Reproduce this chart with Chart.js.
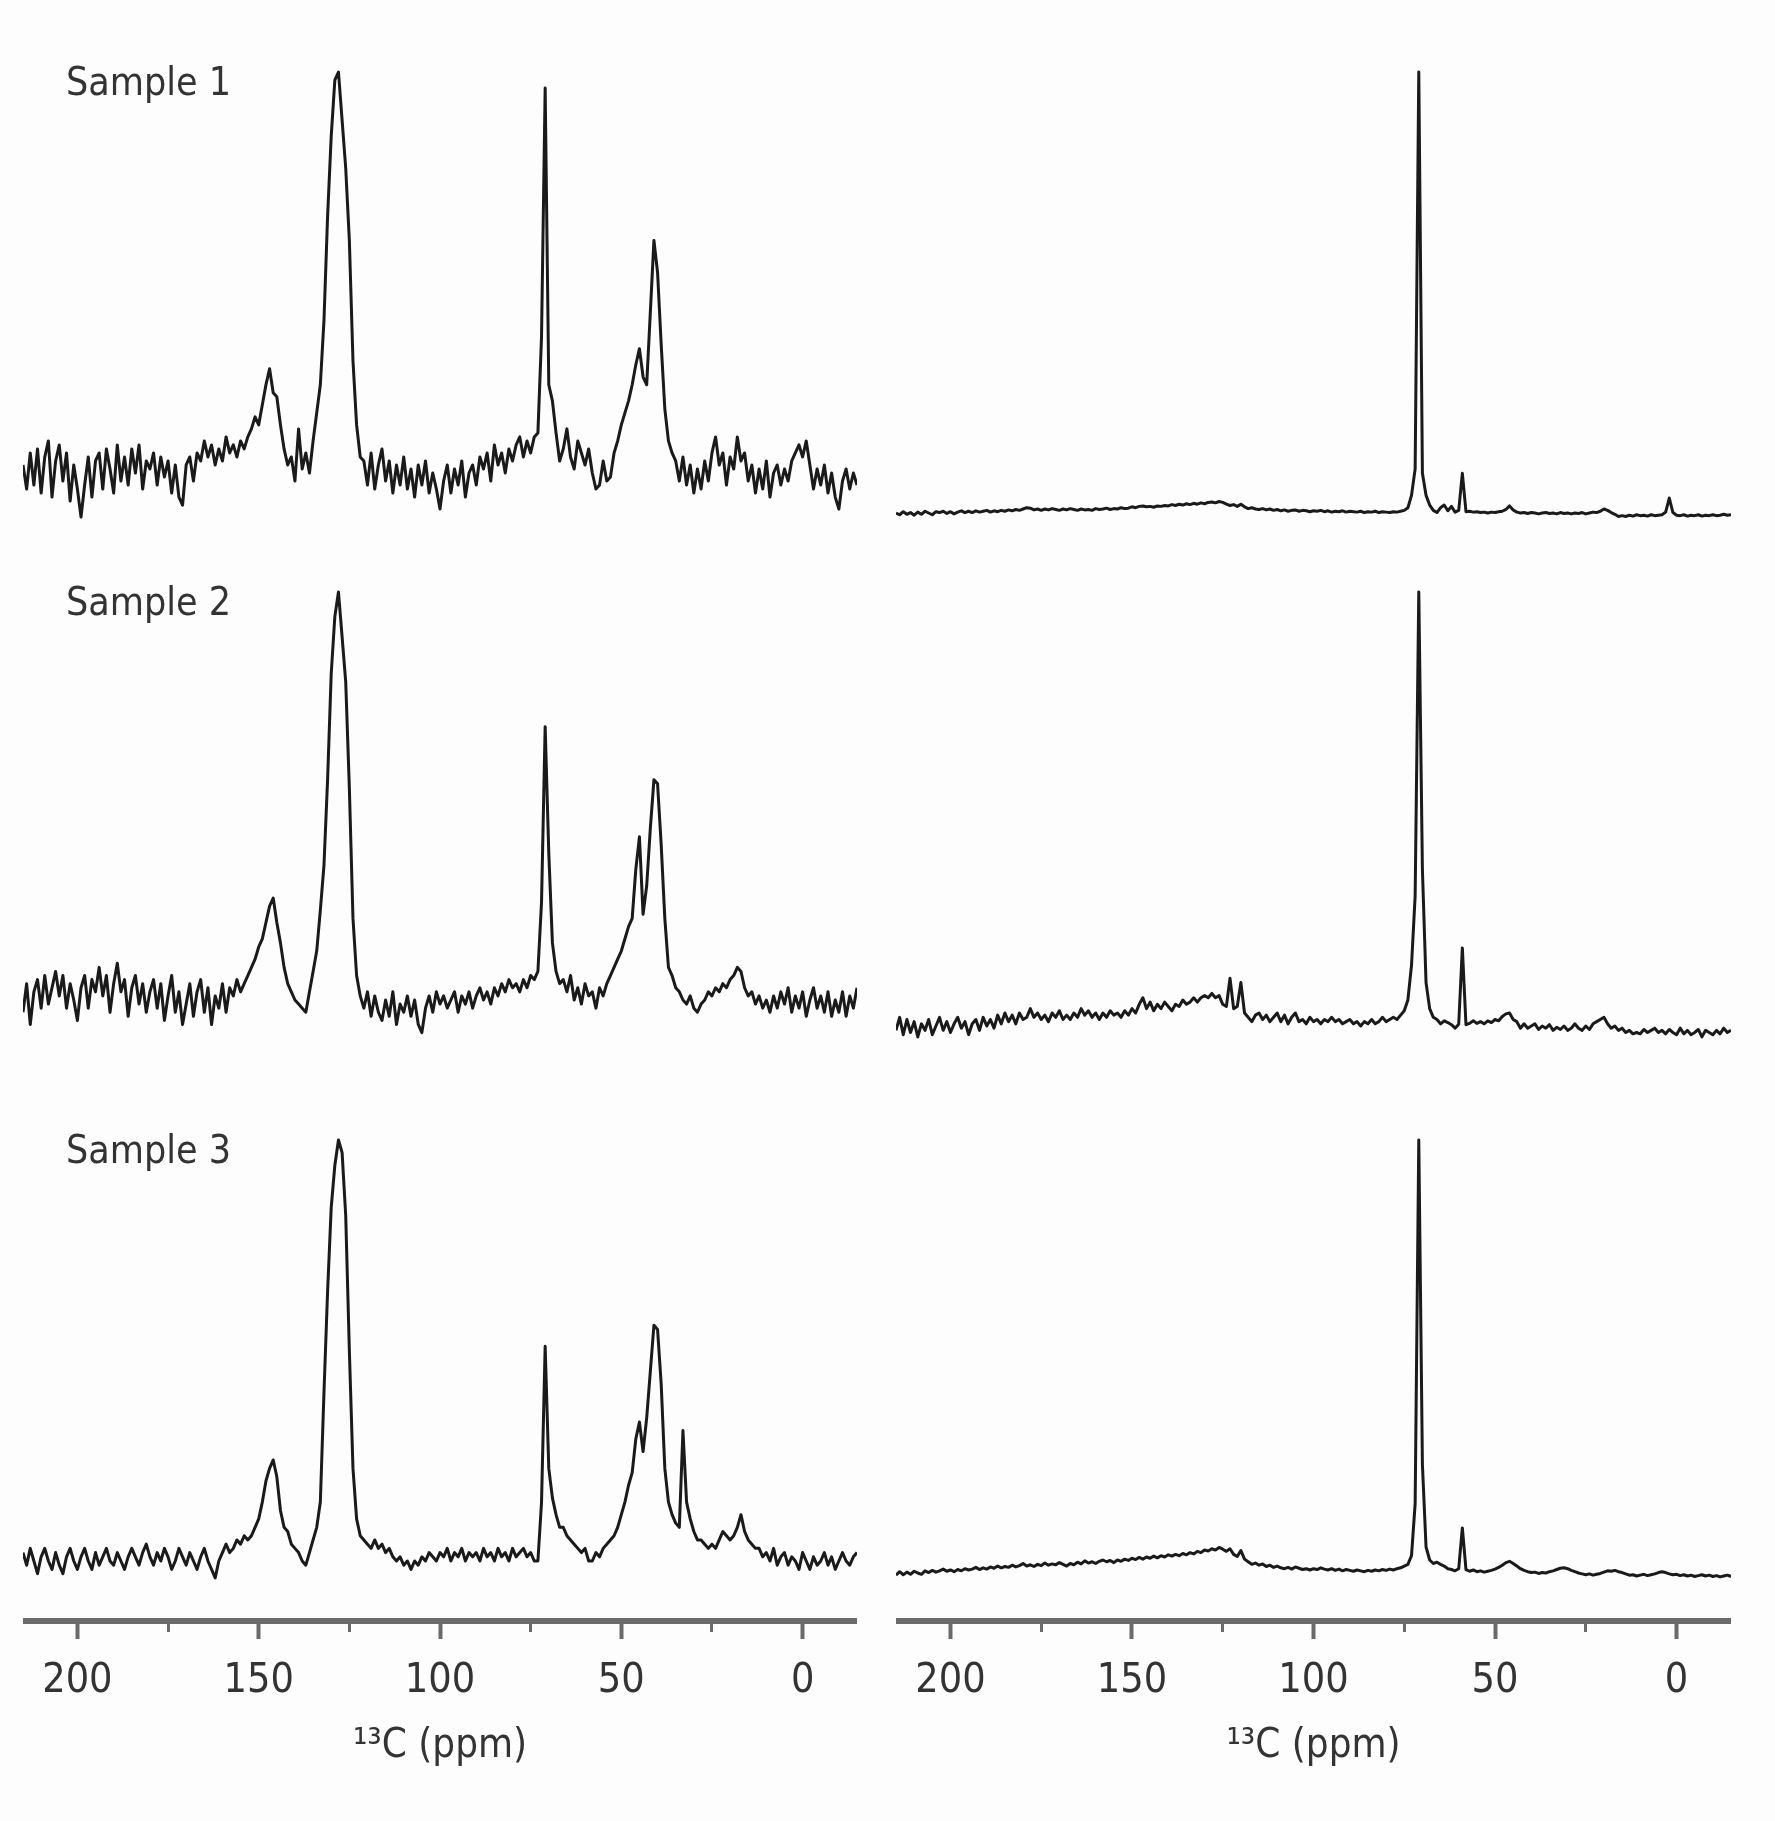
<!DOCTYPE html>
<html>
<head>
<meta charset="utf-8">
<title>13C NMR spectra</title>
<script src="https://cdn.jsdelivr.net/npm/chart.js@4.4.1/dist/chart.umd.min.js"></script>
<style>
  html, body { margin: 0; padding: 0; background: #fdfdfd; }
  #page { position: relative; width: 1775px; height: 1821px; overflow: hidden; }
  .panel { position: absolute; }
</style>
</head>
<body>
<div id="page"></div>
<script>
// chemical shift grid: one intensity per ppm, from 215 ppm down to -15 ppm
var ppmStart = 215;
var ppmEnd = -15;

var tickValues = [0, 50, 100, 150, 200];
var minorTickValues = [25, 75, 125, 175];
var axisTitle = '¹³C (ppm)';

// intensities, tallest peak of each panel = 100
var leftSample1 = [
  2, -4, 5, -3, 6, -5, 4, 8, -6, 3,          // 215
  7, -2, 5, -7, 2, -4, -11, -3, 4, -6,       // 205
  3, 5, -4, 6, 1, -5, 7, -2, 4, -3,          // 195
  6, 0, 7, -4, 3, 1, 5, -3, 4, -1,           // 185
  3, -5, 2, -6, -8, 2, 4, -2, 5, 3,          // 175
  8, 4, 7, 2, 6, 3, 9, 5, 7, 4,              // 165
  8, 6, 9, 11, 14, 12, 17, 22, 26, 20,       // 155
  19, 12, 6, 2, 4, -2, 11, 1, 5, 0,          // 145
  8, 15, 22, 38, 64, 84, 98, 100, 88, 76,    // 135
  58, 28, 12, 4, 3, -3, 5, -4, 2, 6,         // 125
  -2, 3, -5, 2, -3, 4, -4, 1, -6, 2,         // 115
  -3, 3, -5, 0, -4, -9, -2, 2, -5, 1,        // 105
  -3, 3, -6, 0, 2, -3, 4, 1, 5, -2,          // 95
  7, 2, 5, 0, 6, 3, 7, 9, 4, 8,              // 85
  5, 9, 10, 34, 96, 22, 18, 10, 3, 6,        // 75
  11, 4, 1, 8, 5, 2, 6, 0, -4, -3,           // 65
  3, -2, -1, 5, 8, 12, 15, 18, 22, 27,       // 55
  31, 24, 22, 40, 58, 50, 32, 16, 8, 5,      // 45
  3, -2, 4, -3, 2, -5, 1, -4, 3, -2,         // 35
  5, 9, 2, 5, -3, 4, 1, 9, 3, 5,             // 25
  -2, 2, -5, 1, -4, 3, -6, 0, 2, -3,         // 15
  1, -2, 3, 5, 7, 4, 8, 2, -4, 1,            // 5
  -3, 2, -5, 0, -6, -9, -2, 1, -4, 0,        // -5
  -3                                          // -15
];

var leftSample2 = [
  -3, 4, -6, 2, 5, -2, 6, -1, 3, 7,          // 215
  1, 6, -2, 4, 0, -5, 3, 6, -2, 5,           // 205
  2, 8, 1, 6, -3, 4, 9, 2, 5, -4,            // 195
  3, 6, -1, 4, -3, 2, 5, -2, 4, -5,          // 185
  1, 6, -3, 2, -6, -1, 4, -4, 2, 5,          // 175
  -3, 3, -6, 1, -2, 4, -3, 3, 1, 5,          // 165
  2, 4, 6, 8, 10, 13, 15, 19, 23, 25,        // 155
  19, 14, 8, 4, 2, 0, -1, -2, -3, 2,         // 145
  7, 12, 22, 33, 54, 80, 94, 100, 89, 78,    // 135
  52, 20, 6, 1, -2, 2, -4, 1, -3, -5,        // 125
  0, -4, 2, -6, -1, -3, 1, -4, 0, -6,        // 115
  -8, -2, 1, -3, 2, -1, 1, -2, 0, 2,         // 105
  -3, 1, -1, 2, -2, 1, 3, 0, 2, -1,          // 95
  3, 1, 4, 2, 5, 3, 4, 2, 5, 3,              // 85
  6, 5, 7, 24, 67, 36, 14, 7, 4, 5,          // 75
  2, 6, 0, 3, -1, 4, 1, 2, -2, 3,            // 65
  1, 4, 6, 8, 10, 12, 15, 18, 20, 32,        // 55
  40, 21, 28, 42, 54, 53, 38, 20, 8, 6,      // 45
  3, 2, 0, -1, 1, -2, -3, -1, 0, 2,          // 35
  1, 3, 2, 4, 3, 5, 6, 8, 7, 3,              // 25
  1, 2, -1, 1, -2, 0, -3, 1, -2, 2,          // 15
  -1, 3, -3, 1, -2, 2, -4, 0, 3, -2,         // 5
  1, -3, 2, -4, 0, -3, 2, -4, 1, -2,         // -5
  3                                           // -15
];

var leftSample3 = [
  2, -1, 3, 0, -3, 1, 3, 0, -2, 2,           // 215
  -1, -3, 1, 3, 0, -2, 1, 3, 0, -2,          // 205
  2, -1, 1, 3, 0, -1, 2, 0, -2, 1,           // 195
  3, 1, -1, 2, 4, 1, -1, 2, 0, 3,            // 185
  1, -2, 0, 3, 1, -1, 2, 0, -2, 1,           // 175
  3, 0, -2, -4, 0, 2, 4, 2, 3, 5,            // 165
  4, 6, 5, 6, 8, 10, 14, 19, 22, 24,         // 155
  20, 12, 8, 7, 4, 3, 2, 0, -1, 2,           // 145
  5, 8, 14, 40, 64, 84, 94, 100, 97, 82,     // 135
  50, 22, 10, 6, 5, 4, 3, 5, 3, 4,           // 125
  2, 3, 1, 0, 1, -1, 0, -2, 0, -1,           // 115
  1, 0, 2, 1, 0, 2, 1, 3, 0, 2,              // 105
  1, 3, 0, 2, 1, 2, 0, 3, 1, 2,              // 95
  0, 3, 1, 2, 0, 3, 1, 2, 3, 1,              // 85
  2, 0, 0, 14, 51, 22, 15, 11, 8, 8,         // 75
  6, 5, 4, 3, 2, 3, 0, 0, 2, 1,              // 65
  3, 4, 5, 6, 8, 11, 14, 18, 21, 29,         // 55
  33, 26, 34, 45, 56, 55, 42, 22, 14, 11,    // 45
  9, 8, 31, 14, 10, 7, 5, 5, 4, 3,           // 35
  4, 3, 5, 7, 6, 5, 6, 8, 11, 7,             // 25
  5, 4, 3, 3, 1, 2, 0, 3, -1, 1,             // 15
  2, -1, 1, 0, -2, 2, 0, -2, 1, -1,          // 5
  0, 2, -1, 1, -2, 0, 2, 0, -1, 1,           // -5
  2                                           // -15
];

var rightSample1 = [
  0, -0.4, 0.3, -0.3, 0.1, -0.5, 0.2, -0.3, 0.4, 0,        // 215
  -0.4, 0.3, 0.1, 0.4, -0.1, 0.3, -0.2, 0.2, 0.5, 0.1,     // 205
  0.4, 0.1, 0.5, 0.2, 0.4, 0.6, 0.2, 0.5, 0.3, 0.6,        // 195
  0.4, 0.7, 0.5, 0.8, 0.6, 0.9, 1.2, 1.1, 0.7, 0.9,        // 185
  0.6, 0.9, 0.7, 1.0, 0.8, 0.6, 0.9, 0.7, 1.0, 0.8,        // 175
  0.6, 0.9, 0.7, 0.8, 0.6, 1.0, 0.8, 0.9, 1.1, 0.8,        // 165
  1.0, 0.9, 1.2, 1.0, 1.1, 1.4, 1.2, 1.5, 1.6, 1.4,        // 155
  1.5, 1.3, 1.6, 1.5, 1.7, 1.6, 1.9, 1.7, 2.0, 1.8,        // 145
  2.1, 1.9, 2.2, 2.0, 2.3, 2.1, 2.4, 2.5, 2.3, 2.6,        // 135
  2.4, 2.0, 1.7, 1.9, 1.5, 2.0, 1.4, 1.0, 1.2, 0.9,        // 125
  0.8, 1.0, 0.7, 0.9, 0.6, 0.8, 0.5, 0.7, 0.4, 0.6,        // 115
  0.7, 0.4, 0.6, 0.5, 0.3, 0.5, 0.4, 0.6, 0.3, 0.5,        // 105
  0.2, 0.4, 0.3, 0.5, 0.2, 0.4, 0.3, 0.2, 0.4, 0.1,        // 95
  0.3, 0.2, 0.4, 0.1, 0.3, 0.2, 0.1, 0.3, 0.2, 0.4,        // 85
  0.6, 1.2, 4, 10, 100, 9, 4, 1.8, 0.6, 0.1,               // 75
  1.2, 1.8, 0.5, 1.5, 0.2, 0.6, 9, 0.3, 0.4, 0.2,          // 65
  0.3, 0.1, 0.2, 0, 0.2, 0.1, 0.3, 0.4, 0.8, 1.6,          // 55
  0.7, 0.2, 0, 0.1, -0.1, 0.1, 0, -0.2, 0, 0.1,            // 45
  -0.1, 0, -0.2, 0.1, -0.1, 0, -0.2, 0, -0.1, 0.1,         // 35
  -0.2, 0, 0.2, 0.1, 0.4, 0.9, 0.6, 0.1, -0.3, -0.8,       // 25
  -0.6, -0.8, -0.5, -0.7, -0.4, -0.6, -0.5, -0.7, -0.4, -0.6, // 15
  -0.5, -0.4, 0.2, 3.4, 0.1, -0.5, -0.6, -0.4, -0.7, -0.5, // 5
  -0.6, -0.4, -0.7, -0.5, -0.6, -0.4, -0.6, -0.5, -0.3, -0.5, // -5
  -0.4                                                      // -15
];

var rightSample2 = [
  -1, 2, -2, 1.5, -1.5, 1, -2.5, 0.5, -1, 1.5,             // 215
  -2, 0, 2, -1, 1, -1.5, 0.5, 2, -0.5, 1,                  // 205
  -2, 0.5, 1.5, -1, 2, 0, 1.5, -0.5, 2.5, 0.5,             // 195
  3, 1, 2.5, 0.5, 3, 1.5, 2, 4, 2, 3,                      // 185
  1.5, 2.5, 1, 3, 2, 3.5, 1.5, 2.5, 1.5, 3,                // 175
  2, 4, 2.5, 3.5, 2, 3, 1.5, 3, 2, 3.5,                    // 165
  2.5, 3, 2, 3.5, 2.5, 4, 3, 5, 6.5, 4,                    // 155
  5.5, 3.5, 5, 4, 5.5, 4.5, 3.5, 5, 4.5, 6,                // 145
  5, 5.5, 6.5, 5.5, 6.5, 7, 6.5, 7.5, 6.5, 7,              // 135
  5, 4.5, 11, 4, 4.5, 10, 3, 2, 1, 2.5,                    // 125
  3, 1.5, 2.5, 1, 2, 3, 1, 2.5, 0.5, 2,                    // 115
  3, 1, 1.5, 0.5, 2, 1, 1.5, 0.5, 1.5, 1,                  // 105
  2, 1, 1.5, 0.5, 1, 1.5, 0.5, 1, 0, 1,                    // 95
  0.5, 1.5, 0.5, 1, 2, 1, 1.5, 2, 1.5, 2.5,                // 85
  3.5, 6, 14, 30, 100, 36, 10, 4, 2, 1.5,                  // 75
  0.5, 1.2, 0.8, 0.3, -0.5, 0.4, 18, 0.3, 0.6, 1.2,        // 65
  0.6, 1, 0.5, 1.2, 0.8, 1.5, 1.2, 2.2, 2.8, 3,            // 55
  1.5, 1, -0.5, 0.5, -0.5, 0, 0.5, -0.8, 0, -0.5,          // 45
  0.3, -1, -0.3, -0.8, 0, -1, -0.5, 0.5, -0.5, -1,         // 35
  0, -0.8, 0.5, 1, 1.5, 2, 0.5, -0.5, 0, -1,               // 25
  -0.5, -1.5, -1, -1.8, -1.5, -1.8, -0.8, -1.5, -1, -0.5,  // 15
  -1.5, -1, -1.8, -0.8, -1.5, -2, -0.5, -1.8, -1, -2,      // 5
  -1.5, -0.8, -2.5, -1, -1.5, -2, -1, -1.8, -0.5, -1.5,    // -5
  -1                                                        // -15
];

var rightSample3 = [
  -0.5, 0.3, -0.4, 0.2, -0.3, 0.4, 0, -0.3, 0.5, 0.1,      // 215
  0.6, 0.2, 0.5, 0.9, 0.4, 0.7, 0.3, 0.8, 0.5, 1.0,        // 205
  0.7, 0.9, 1.3, 0.8, 1.2, 0.9, 1.4, 1.1, 1.6, 1.2,        // 195
  1.5, 1.3, 1.8, 1.4, 1.7, 2.2, 1.6, 1.9, 1.5, 2.0,        // 185
  1.7, 2.3, 1.8, 2.1, 1.9, 2.4, 2.0, 1.6, 2.2, 1.9,        // 175
  2.5, 2.1, 2.8, 2.3, 2.6, 2.2, 2.7, 3.0, 2.6, 2.9,        // 165
  2.4, 3.0, 2.7, 3.2, 2.9, 3.4, 3.1, 3.6, 3.2, 3.7,        // 155
  3.4, 3.9, 3.5, 4.0, 3.7, 4.2, 3.9, 4.3, 4.0, 4.5,        // 145
  4.2, 4.7, 4.4, 5.0, 4.7, 5.3, 5.1, 5.6, 5.3, 5.9,        // 135
  5.5, 5.0, 5.6, 4.3, 3.8, 5.2, 3.2, 2.6, 2.0, 2.3,        // 125
  1.8, 2.1, 1.5, 1.8, 1.3, 1.6, 1.2, 1.0, 1.3, 0.9,        // 115
  1.4, 1.1, 0.8, 1.0, 0.7, 1.0, 0.8, 1.2, 0.9, 0.7,        // 105
  1.0, 0.6, 0.9, 0.5, 0.8, 0.6, 0.4, 0.7, 0.5, 0.3,        // 95
  0.6, 0.4, 0.7, 0.5, 0.8, 0.6, 0.9, 0.7, 1.0, 1.2,        // 85
  1.6, 2.0, 4, 16, 100, 25, 6, 3, 2.2, 2.5,                // 75
  2.0, 1.6, 1.0, 0.8, 0.5, 1.0, 10.4, 0.8, 0.4, 0.7,       // 65
  0.3, 0.5, 0.2, 0.4, 0.6, 0.9, 1.3, 1.8, 2.4, 2.7,        // 55
  2.2, 1.6, 1.0, 0.6, 0.3, 0.1, 0.2, -0.1, 0.1, 0.0,       // 45
  0.3, 0.5, 0.8, 1.1, 1.2, 1.0, 0.6, 0.3, 0, -0.2,         // 35
  -0.4, -0.2, -0.5, -0.3, -0.1, 0.2, 0.5, 0.4, 0.6, 0.3,   // 25
  0.1, -0.2, -0.5, -0.4, -0.7, -0.5, -0.3, -0.6, -0.4, -0.2, // 15
  0.1, 0.3, 0.1, -0.2, -0.4, -0.3, -0.6, -0.4, -0.7, -0.5, // 5
  -0.8, -0.6, -0.4, -0.7, -0.5, -0.8, -0.6, -0.9, -0.7, -0.5, // -5
  -0.8                                                      // -15
];

// ---- layout ----
var fontFamily = '"DejaVu Sans Condensed", "DejaVu Sans", sans-serif';
var textColor = '#333';
var axisColor = '#6a6a6a';
var pageBottom = 1821;
var columns = [{ left: 23, width: 834 }, { left: 896, width: 835 }];
var rows = [
  { top: 40, bottom: 530 },
  { top: 560, bottom: 1060 },
  { top: 1100, bottom: 1621 }
];

// page y of the baseline (0) and of the tallest peak (100) in each panel
var panels = [
  { row: 0, col: 0, values: leftSample1, base: 473, peak: 72, label: 'Sample 1', labelY: 95 },
  { row: 0, col: 1, values: rightSample1, base: 513, peak: 72 },
  { row: 1, col: 0, values: leftSample2, base: 1000, peak: 592, label: 'Sample 2', labelY: 615 },
  { row: 1, col: 1, values: rightSample2, base: 1026, peak: 592 },
  { row: 2, col: 0, values: leftSample3, base: 1561, peak: 1140, label: 'Sample 3', labelY: 1163 },
  { row: 2, col: 1, values: rightSample3, base: 1573, peak: 1140 }
];

var sampleLabel = {
  id: 'sampleLabel',
  afterDraw: function (chart, args, opts) {
    if (!opts.text) return;
    var ctx = chart.ctx;
    ctx.save();
    ctx.font = '39px ' + fontFamily;
    ctx.fillStyle = textColor;
    ctx.textBaseline = 'alphabetic';
    ctx.fillText(opts.text, opts.x, opts.y);
    ctx.restore();
  }
};

var page = document.getElementById('page');

panels.forEach(function (p) {
  var col = columns[p.col];
  var row = rows[p.row];
  var isBottom = p.row === rows.length - 1;
  var height = isBottom ? pageBottom - row.top : row.bottom - row.top;

  var div = document.createElement('div');
  div.className = 'panel';
  div.style.left = col.left + 'px';
  div.style.top = row.top + 'px';
  div.style.width = col.width + 'px';
  div.style.height = height + 'px';
  var canvas = document.createElement('canvas');
  div.appendChild(canvas);
  page.appendChild(div);

  var unit = (p.base - p.peak) / 100;
  var yMin = -(row.bottom - p.base) / unit;
  var yMax = (p.base - row.top) / unit;

  var points = p.values.map(function (v, i) {
    return { x: ppmStart - i, y: v };
  });

  var scales = {
    x: {
      type: 'linear',
      reverse: true,
      min: ppmEnd,
      max: ppmStart,
      display: false
    },
    y: {
      type: 'linear',
      min: yMin,
      max: yMax,
      display: false
    }
  };

  if (isBottom) {
    scales.x = {
      type: 'linear',
      position: 'bottom',
      reverse: true,
      min: ppmEnd,
      max: ppmStart,
      weight: 1,
      afterBuildTicks: function (axis) {
        axis.ticks = tickValues.map(function (v) { return { value: v }; });
      },
      afterFit: function (axis) {
        axis.height = pageBottom - rows[2].bottom;
      },
      ticks: {
        autoSkip: false,
        maxRotation: 0,
        padding: 18,
        color: textColor,
        font: { family: fontFamily, size: 41 }
      },
      grid: {
        drawOnChartArea: false,
        tickLength: 18,
        tickWidth: 4,
        tickColor: axisColor
      },
      border: { display: true, width: 6, color: axisColor },
      title: {
        display: true,
        text: axisTitle,
        color: textColor,
        font: { family: fontFamily, size: 40 },
        padding: { top: 0, bottom: 50 }
      }
    };
    scales.xMinor = {
      type: 'linear',
      position: 'bottom',
      reverse: true,
      min: ppmEnd,
      max: ppmStart,
      weight: 0,
      afterBuildTicks: function (axis) {
        axis.ticks = minorTickValues.map(function (v) { return { value: v }; });
      },
      afterFit: function (axis) {
        axis.height = 0;
      },
      ticks: { display: false },
      grid: {
        drawOnChartArea: false,
        tickLength: 11,
        tickWidth: 3,
        tickColor: axisColor
      },
      border: { display: false }
    };
  }

  new Chart(canvas.getContext('2d'), {
    type: 'line',
    data: {
      datasets: [{
        data: points,
        xAxisID: 'x',
        yAxisID: 'y',
        borderColor: '#1a1a1a',
        borderWidth: 3,
        borderJoinStyle: 'round',
        pointRadius: 0,
        tension: 0,
        clip: false
      }]
    },
    options: {
      responsive: true,
      maintainAspectRatio: false,
      animation: false,
      events: [],
      layout: { padding: 0 },
      plugins: {
        legend: { display: false },
        tooltip: { enabled: false },
        sampleLabel: {
          text: p.label,
          x: 66 - col.left,
          y: p.labelY - row.top
        }
      },
      scales: scales
    },
    plugins: [sampleLabel]
  });
});
</script>
</body>
</html>
